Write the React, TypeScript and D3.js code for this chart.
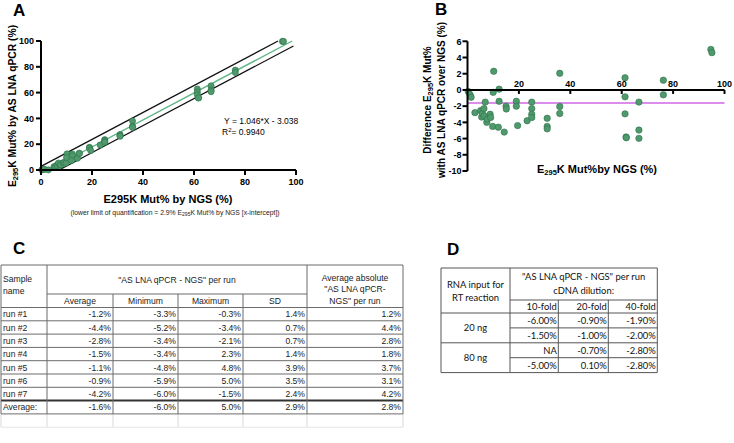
import React from 'react';
import * as d3 from 'd3';

// NGS mutation % (x) and difference qPCR - NGS (y) for each sample
const ngsPct = [0.3, 1.0, 1.4, 2.9, 5.1, 5.5, 5.8, 6.4, 6.5, 6.9, 7.5, 7.7, 8.8, 9.0, 9.8, 10.2, 10.0, 12.3, 12.3, 12.0,
  14.3, 15.0, 15.1, 19.0, 19.0, 19.5, 23.2, 25.0, 25.0, 25.0, 25.0, 31.0, 31.0, 31.0, 35.9, 35.9, 35.9,
  61.3, 61.3, 61.3, 61.7, 61.8, 66.7, 66.7, 66.7, 76.2, 76.2, 94.7, 95.1];
const diffPct = [-0.2, -0.6, -0.9, -2.8, -2.55, -3.35, -2.9, -2.3, -3.2, -1.5, -4.0, -3.6, -3.0, -3.4, -4.5, 2.3, -0.3, 0.1, -1.4, -4.6,
  -5.2, -2.0, -2.35, -1.4, -2.0, -4.4, -3.8, -1.5, -2.3, -3.0, -3.4, -3.5, -4.5, -4.8, 2.05, -2.05, -2.9,
  1.5, -0.85, -2.95, -5.8, -5.9, -1.5, -4.95, -5.97, 1.2, -0.6, 5.0, 4.6];

const fitSlope = 1.046;
const fitIntercept = -3.038;
const bandOffsets = [5.8, -4.4];
const lineExtent = [0, 99];
const meanDiff = -1.6;

const ticksA = [0, 20, 40, 60, 80, 100];
const yTicksB = [6, 4, 2, 0, -2, -4, -6, -8, -10];
const xTicksB = [20, 40, 60, 80, 100];

// table C
const runNames = ['run #1', 'run #2', 'run #3', 'run #4', 'run #5', 'run #6', 'run #7', 'Average:'];
const runAvg = ['-1.2%', '-4.4%', '-2.8%', '-1.5%', '-1.1%', '-0.9%', '-4.2%', '-1.6%'];
const runMin = ['-3.3%', '-5.2%', '-3.4%', '-3.4%', '-4.8%', '-5.9%', '-6.0%', '-6.0%'];
const runMax = ['-0.3%', '-3.4%', '-2.1%', '2.3%', '4.8%', '5.0%', '-1.5%', '5.0%'];
const runSD = ['1.4%', '0.7%', '0.7%', '1.4%', '3.9%', '3.5%', '2.4%', '2.9%'];
const runAbs = ['1.2%', '4.4%', '2.8%', '1.8%', '3.7%', '3.1%', '4.2%', '2.8%'];
const statHeaders = ['Average', 'Minimum', 'Maximum', 'SD'];

// table D
const rnaInputs = ['20 ng', '80 ng'];
const dilutions = ['10-fold', '20-fold', '40-fold'];
const dRows = [
  ['-6.00%', '-0.90%', '-1.90%'],
  ['-1.50%', '-1.00%', '-2.00%'],
  ['NA', '-0.70%', '-2.80%'],
  ['-5.00%', '0.10%', '-2.80%'],
];

const ARIAL = '"Liberation Sans", Arial, sans-serif';
const CALIBRI = 'Lato, "Open Sans", sans-serif';
const dotFill = '#4f9a6d';
const dotStroke = '#2e7048';
const fitColor = '#5fb585';

function PanelA() {
  const x = d3.scaleLinear().domain([0, 100]).range([41, 296]);
  const y = d3.scaleLinear().domain([0, 100]).range([170, 41]);
  const seg = (off: number) => {
    const f = (v: number) => fitSlope * v + fitIntercept + off;
    const x0 = Math.max(lineExtent[0], (0 - fitIntercept - off) / fitSlope);
    const x1 = Math.min(lineExtent[1], (100 - fitIntercept - off) / fitSlope);
    return d3.line<number>().x(d => x(d)).y(d => y(f(d)))([x0, x1]) || '';
  };
  return (
    <g>
      <text x={13} y={16} fontSize={17} fontWeight="bold" fontFamily={ARIAL}>A</text>
      {bandOffsets.map((o, i) => <path key={i} d={seg(o)} stroke="#111" strokeWidth={1.3} fill="none" />)}
      <path d={seg(0)} stroke={fitColor} strokeWidth={1.4} fill="none" />
      {ngsPct.map((v, i) => (
        <circle key={i} cx={x(v)} cy={y(Math.max(0, v + diffPct[i]))} r={3.1} fill={dotFill} stroke={dotStroke} strokeWidth={0.6} />
      ))}
      <line x1={x(0)} x2={x(0)} y1={y(0) + 1} y2={y(100)} stroke="#000" strokeWidth={2} />
      <line x1={x(0) - 1} x2={x(100)} y1={y(0)} y2={y(0)} stroke="#000" strokeWidth={2} />
      {ticksA.map(t => (
        <g key={'y' + t}>
          <line x1={x(0) - 5} x2={x(0)} y1={y(t)} y2={y(t)} stroke="#000" strokeWidth={2} />
          <text x={x(0) - 7} y={y(t) + 3.2} textAnchor="end" fontSize={9} fontWeight="bold" fontFamily={ARIAL}>{t}</text>
        </g>
      ))}
      {ticksA.map(t => (
        <g key={'x' + t}>
          <line x1={x(t)} x2={x(t)} y1={y(0)} y2={y(0) + 5} stroke="#000" strokeWidth={2} />
          <text x={x(t)} y={y(0) + 15} textAnchor="middle" fontSize={9} fontWeight="bold" fontFamily={ARIAL}>{t}</text>
        </g>
      ))}
      <text x={168} y={203} textAnchor="middle" fontSize={11} fontWeight="bold" fontFamily={ARIAL}>E295K Mut% by NGS (%)</text>
      <text x={175} y={214.5} textAnchor="middle" fontSize={6.8} fontFamily={ARIAL} fill="#222">
        (lower limit of quantification = 2.9% E<tspan fontSize={5} dy={1.5}>295</tspan><tspan dy={-1.5}>K Mut% by NGS [x-intercept])</tspan>
      </text>
      <text transform="translate(16,106) rotate(-90)" textAnchor="middle" fontSize={10.3} fontWeight="bold" fontFamily={ARIAL}>
        E<tspan fontSize={7.5} dy={2}>295</tspan><tspan dy={-2}>K Mut% by AS LNA qPCR (%)</tspan>
      </text>
      <text x={224} y={124} fontSize={8.5} fontFamily={ARIAL}>Y = 1.046*X - 3.038</text>
      <text x={222} y={135} fontSize={8.5} fontFamily={ARIAL}>R<tspan fontSize={6} dy={-3}>2</tspan><tspan dy={3}>= 0.9940</tspan></text>
    </g>
  );
}

function PanelB() {
  const x = d3.scaleLinear().domain([0, 100]).range([467.5, 724.5]);
  const y = d3.scaleLinear().domain([-10, 6]).range([171, 41.3]);
  return (
    <g>
      <text x={435} y={15} fontSize={17} fontWeight="bold" fontFamily={ARIAL}>B</text>
      <line x1={x(0)} x2={x(100)} y1={y(meanDiff)} y2={y(meanDiff)} stroke="#d066e4" strokeWidth={1.5} />
      {ngsPct.map((v, i) => (
        <circle key={i} cx={x(v)} cy={y(diffPct[i])} r={3.2} fill={dotFill} stroke={dotStroke} strokeWidth={0.6} />
      ))}
      <line x1={x(0)} x2={x(0)} y1={y(-10)} y2={y(6)} stroke="#000" strokeWidth={2} />
      <line x1={x(0)} x2={x(100)} y1={y(0)} y2={y(0)} stroke="#000" strokeWidth={2} />
      {yTicksB.map(t => (
        <g key={'y' + t}>
          <line x1={x(0) - 5} x2={x(0)} y1={y(t)} y2={y(t)} stroke="#000" strokeWidth={2} />
          <text x={x(0) - 6} y={y(t) + 3.2} textAnchor="end" fontSize={9} fontWeight="bold" fontFamily={ARIAL}>{t}</text>
        </g>
      ))}
      {xTicksB.map(t => (
        <g key={'x' + t}>
          <line x1={x(t)} x2={x(t)} y1={y(0)} y2={y(0) + 4} stroke="#000" strokeWidth={2} />
          <text x={x(t)} y={y(0) - 2.5} textAnchor="middle" fontSize={9} fontWeight="bold" fontFamily={ARIAL}>{t}</text>
        </g>
      ))}
      <text x={597} y={173} textAnchor="middle" fontSize={11} fontWeight="bold" fontFamily={ARIAL}>
        E<tspan fontSize={7.5} dy={2}>295</tspan><tspan dy={-2}>K Mut%by NGS (%)</tspan>
      </text>
      <text transform="translate(431,100) rotate(-90)" textAnchor="middle" fontSize={10} fontWeight="bold" fontFamily={ARIAL}>
        Difference E<tspan fontSize={7.5} dy={2}>295</tspan><tspan dy={-2}>K Mut%</tspan>
      </text>
      <text transform="translate(445,100) rotate(-90)" textAnchor="middle" fontSize={10} fontWeight="bold" fontFamily={ARIAL}>
        with AS LNA qPCR over NGS (%)
      </text>
    </g>
  );
}

function TableC() {
  const cols = [1, 47, 113, 178, 243, 307, 403];
  const top = 265;
  const mid = 294;
  const headBottom = 307.5;
  const rowH = 13.3;
  const rows = d3.range(runNames.length + 2).map(i => headBottom + i * rowH);
  const last = rows[runNames.length];
  const emptyBottom = last + rowH;
  const fs = 8.6;
  const line = '#6b6b6b';
  const colsData = [runAvg, runMin, runMax, runSD, runAbs];
  return (
    <g fontFamily={ARIAL} fontSize={fs} fill="#222">
      <text x={13} y={254} fontSize={17} fontWeight="bold" fill="#000">C</text>
      {/* empty trailing row */}
      {cols.map((c, i) => (
        <line key={'e' + i} x1={c} x2={c} y1={last} y2={emptyBottom} stroke="#d8d8d8" strokeWidth={1} />
      ))}
      <line x1={cols[0]} x2={cols[6]} y1={emptyBottom} y2={emptyBottom} stroke="#e4e4e4" strokeWidth={1} />
      {/* grid */}
      <line x1={cols[0]} x2={cols[6]} y1={top} y2={top} stroke={line} />
      <line x1={cols[1]} x2={cols[5]} y1={mid} y2={mid} stroke={line} />
      {rows.slice(0, runNames.length + 1).map((r, i) => (
        <line key={'r' + i} x1={cols[0]} x2={cols[6]} y1={r} y2={r}
          stroke={i === runNames.length - 1 ? '#333' : line} strokeWidth={i === runNames.length - 1 ? 2 : 1} />
      ))}
      {cols.map((c, i) => (
        <line key={'c' + i} x1={c} x2={c} y1={i >= 2 && i <= 4 ? mid : top} y2={last} stroke={line} />
      ))}
      <text x={3} y={282}>Sample</text>
      <text x={3} y={293.5}>name</text>
      <text x={(cols[1] + cols[5]) / 2} y={283} textAnchor="middle">"AS LNA qPCR - NGS" per run</text>
      {statHeaders.map((h, i) => (
        <text key={h} x={(cols[i + 1] + cols[i + 2]) / 2} y={303.5} textAnchor="middle">{h}</text>
      ))}
      <text x={(cols[5] + cols[6]) / 2} y={281} textAnchor="middle">Average absolute</text>
      <text x={(cols[5] + cols[6]) / 2} y={292} textAnchor="middle">"AS LNA qPCR-</text>
      <text x={(cols[5] + cols[6]) / 2} y={303.5} textAnchor="middle">NGS" per run</text>
      {runNames.map((n, i) => (
        <g key={n}>
          <text x={3} y={rows[i] + 9.8}>{n}</text>
          {colsData.map((col, j) => (
            <text key={j} x={cols[j + 2] - 2} y={rows[i] + 9.8} textAnchor="end">{col[i]}</text>
          ))}
        </g>
      ))}
    </g>
  );
}

function TableD() {
  const cols = [441, 510, 558.3, 608.3, 657.3];
  const top = 268;
  const sub = 300;
  const headBottom = 313;
  const rowH = 14.9;
  const rows = d3.range(dRows.length + 1).map(i => headBottom + i * rowH);
  const line = '#555';
  const fs = 9.4;
  return (
    <g fontFamily={CALIBRI} fontSize={fs} fill="#111">
      <text x={447} y={255} fontSize={17} fontWeight="bold" fontFamily={ARIAL} fill="#000">D</text>
      <line x1={cols[0]} x2={cols[4]} y1={top} y2={top} stroke={line} />
      <line x1={cols[1]} x2={cols[4]} y1={sub} y2={sub} stroke={line} />
      {rows.map((r, i) => (
        <line key={i} x1={i % 2 === 1 ? cols[1] : cols[0]} x2={cols[4]} y1={r} y2={r} stroke={line} />
      ))}
      <line x1={cols[0]} x2={cols[0]} y1={top} y2={rows[rows.length - 1]} stroke={line} />
      <line x1={cols[1]} x2={cols[1]} y1={top} y2={rows[rows.length - 1]} stroke={line} />
      <line x1={cols[2]} x2={cols[2]} y1={sub} y2={rows[rows.length - 1]} stroke={line} />
      <line x1={cols[3]} x2={cols[3]} y1={sub} y2={rows[rows.length - 1]} stroke={line} />
      <line x1={cols[4]} x2={cols[4]} y1={top} y2={rows[rows.length - 1]} stroke={line} />
      <text x={(cols[0] + cols[1]) / 2} y={288} textAnchor="middle">RNA input for</text>
      <text x={(cols[0] + cols[1]) / 2} y={301} textAnchor="middle">RT reaction</text>
      <text x={(cols[1] + cols[4]) / 2} y={280} textAnchor="middle">"AS LNA qPCR - NGS" per run</text>
      <text x={(cols[1] + cols[4]) / 2} y={294} textAnchor="middle">cDNA dilution:</text>
      {dilutions.map((d, i) => (
        <text key={d} x={cols[i + 2] - 1.5} y={310} textAnchor="end">{d}</text>
      ))}
      {rnaInputs.map((r, i) => (
        <text key={r} x={(cols[0] + cols[1]) / 2} y={rows[i * 2] + rowH + 3.5} textAnchor="middle">{r}</text>
      ))}
      {dRows.map((row, i) => row.map((v, j) => (
        <text key={i + '-' + j} x={cols[j + 2] - 1.5} y={rows[i] + 11} textAnchor="end">{v}</text>
      )))}
    </g>
  );
}

export default function App() {
  return (
    <div style={{ position: 'absolute', left: 0, top: 0 }}>
      <svg width={734} height={443} style={{ display: 'block', background: '#fff' }}>
        <PanelA />
        <PanelB />
        <TableC />
        <TableD />
      </svg>
    </div>
  );
}
